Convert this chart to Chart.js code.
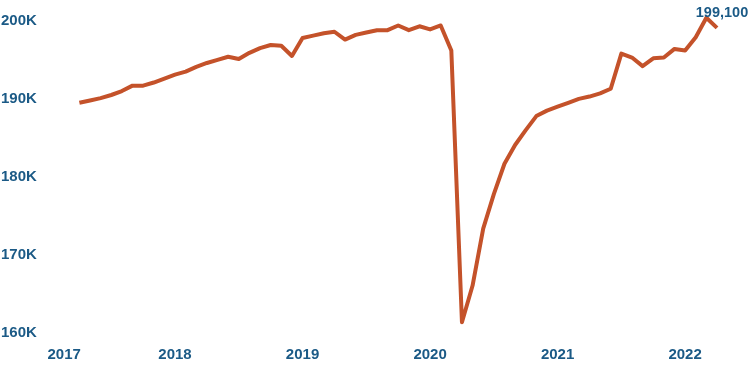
<!DOCTYPE html>
<html lang="en">
<head>
  <meta charset="utf-8" />
  <title>Employment, 2017-2022</title>
  <script src="https://cdn.jsdelivr.net/npm/chart.js"></script>
  <style>
    body {
      margin: 0;
      background: #fff;
    }
    #wrap {
      width: 750px;
      height: 375px;
    }
  </style>
</head>
<body>
  <div id="wrap"><canvas id="chart"></canvas></div>
  <script>
    // monthly categories, Jan 2017 .. Apr 2022
    const years = [2017, 2018, 2019, 2020, 2021, 2022];
    const lastMonth = 4;
    const months = [];
    years.forEach(y => {
      for (let m = 1; m <= 12; m++) {
        if (y === 2022 && m > lastMonth) break;
        months.push(y + '-' + String(m).padStart(2, '0'));
      }
    });

    // series starts in April 2017
    const values = [
      null, null, null, 189500, 189800, 190100, 190500, 191000, 191700, 191700, 192100, 192600,
      193100, 193500, 194100, 194600, 195000, 195400, 195100, 195900, 196500, 196900, 196800, 195500,
      197800, 198100, 198400, 198600, 197600, 198200, 198500, 198800, 198800, 199400, 198800, 199300,
      198900, 199400, 196200, 161400, 166100, 173400, 177800, 181700, 184100, 186000, 187800, 188500,
      189000, 189500, 190000, 190300, 190700, 191300, 195800, 195300, 194200, 195200, 195300, 196400,
      196200, 197900, 200400, 199100
    ];

    const yTicks = [160000, 170000, 180000, 190000, 200000];
    const yMin = 159000;
    const yMax = 201000;

    const blue = '#1b5a86';
    const orange = '#c4522a';
    const tickFont = { family: '"Liberation Sans", Arial, sans-serif', size: 15, weight: 'bold' };

    // label on the last point
    const lastLabel = {
      id: 'lastLabel',
      afterDatasetsDraw(chart) {
        const meta = chart.getDatasetMeta(0);
        const i = values.length - 1;
        const pt = meta.data[i];
        const ctx = chart.ctx;
        ctx.save();
        ctx.font = 'bold 14.5px "Liberation Sans", Arial, sans-serif';
        ctx.fillStyle = blue;
        ctx.textAlign = 'center';
        ctx.textBaseline = 'middle';
        ctx.fillText(values[i].toLocaleString('en-US'), pt.x + 5, pt.y - 15);
        ctx.restore();
      }
    };

    new Chart(document.getElementById('chart'), {
      type: 'line',
      data: {
        labels: months,
        datasets: [{
          data: values,
          borderColor: orange,
          borderWidth: 4,
          borderJoinStyle: 'round',
          pointRadius: 0,
          tension: 0,
          fill: false
        }]
      },
      options: {
        responsive: true,
        maintainAspectRatio: false,
        animation: false,
        layout: { padding: { left: 1, right: 33, top: 13, bottom: 0 } },
        plugins: {
          legend: { display: false },
          tooltip: { enabled: false }
        },
        scales: {
          x: {
            grid: { display: false, drawTicks: false },
            border: { display: false },
            afterFit: axis => { axis.height = 34; },
            ticks: {
              autoSkip: false,
              maxRotation: 0,
              minRotation: 0,
              align: 'inner',
              padding: 5,
              color: blue,
              font: tickFont,
              callback: function (v, i) {
                const m = months[i];
                return m.endsWith('-01') ? m.slice(0, 4) : '';
              }
            }
          },
          y: {
            min: yMin,
            max: yMax,
            grid: { display: false, drawTicks: false },
            border: { display: false },
            afterFit: axis => { axis.width = 46.5; },
            afterBuildTicks: axis => { axis.ticks = yTicks.map(v => ({ value: v })); },
            ticks: {
              crossAlign: 'far',
              color: blue,
              font: tickFont,
              callback: v => (v / 1000) + 'K'
            }
          }
        }
      },
      plugins: [lastLabel]
    });
  </script>
</body>
</html>
